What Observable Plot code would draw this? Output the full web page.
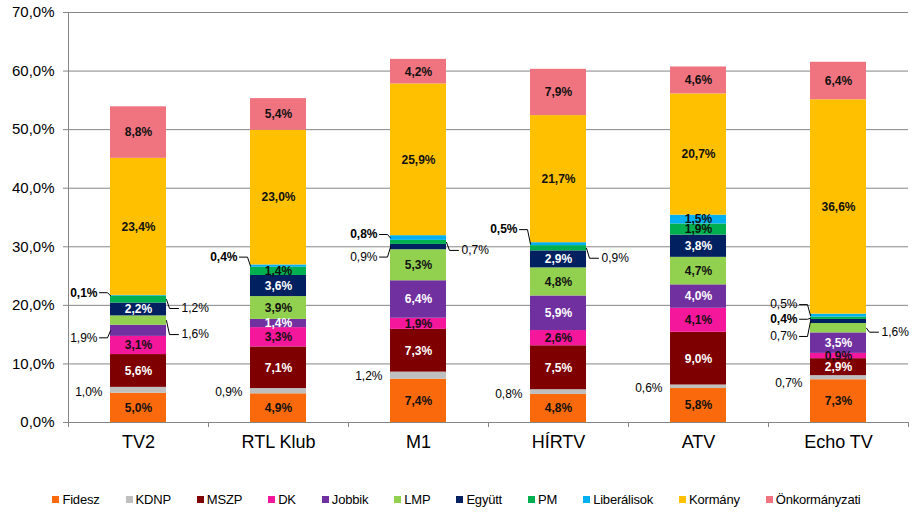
<!DOCTYPE html>
<html>
<head>
<meta charset="utf-8">
<script src="https://cdn.jsdelivr.net/npm/d3@7"></script>
<script src="https://cdn.jsdelivr.net/npm/@observablehq/plot@0.6"></script>
<style>
  html, body { margin: 0; padding: 0; background: #fff; }
  body { width: 913px; height: 520px; overflow: hidden; font-family: "Liberation Sans", Arial, sans-serif; }
  #legend { display: flex; justify-content: center; align-items: center; margin-top: 32px; font-size: 13px; color: #000; letter-spacing: -0.2px; }
  #legend .item { display: flex; align-items: center; margin: 0 13px; }
  #legend .sw { width: 7px; height: 7px; margin-right: 3px; }
</style>
</head>
<body>
<div id="chart"></div>
<div id="legend"></div>
<script>
// ---- data ----
const channels = ["TV2", "RTL Klub", "M1", "HÍRTV", "ATV", "Echo TV"];
const parties = ["Fidesz", "KDNP", "MSZP", "DK", "Jobbik", "LMP", "Együtt", "PM", "Liberálisok", "Kormány", "Önkormányzati"];
const fidesz        = [5.0, 4.9, 7.4, 4.8, 5.8, 7.3];
const kdnp          = [1.0, 0.9, 1.2, 0.8, 0.6, 0.7];
const mszp          = [5.6, 7.1, 7.3, 7.5, 9.0, 2.9];
const dk            = [3.1, 3.3, 1.9, 2.6, 4.1, 0.9];
const jobbik        = [1.9, 1.4, 6.4, 5.9, 4.0, 3.5];
const lmp           = [1.6, 3.9, 5.3, 4.8, 4.7, 1.6];
const egyutt        = [2.2, 3.6, 0.9, 2.9, 3.8, 0.7];
const pm            = [1.2, 1.4, 0.7, 0.9, 1.9, 0.4];
const liberalisok   = [0.1, 0.4, 0.8, 0.5, 1.5, 0.5];
const kormany       = [23.4, 23.0, 25.9, 21.7, 20.7, 36.6];
const onkormanyzati = [8.8, 5.4, 4.2, 7.9, 4.6, 6.4];
const yTicks = [0, 10, 20, 30, 40, 50, 60, 70];

// ---- styles ----
const series = [fidesz, kdnp, mszp, dk, jobbik, lmp, egyutt, pm, liberalisok, kormany, onkormanyzati];
const colors = ["#FA6A0C", "#BFBFBF", "#7F0000", "#F4169B", "#7030A0", "#92D050", "#002060", "#00B050", "#00B0F0", "#FFC000", "#EF7480"];
const textColors = ["#111", "#111", "#fff", "#111", "#fff", "#111", "#fff", "#111", "#111", "#111", "#111"];

// labels placed outside the bar: channel, party, side, vertical pixel shift, bold, leader line
const outside = [
  {c: "TV2", p: "KDNP", side: "L", dy: 2, bold: false, leader: false},
  {c: "TV2", p: "Jobbik", side: "L", dy: 7, bold: false, leader: true},
  {c: "TV2", p: "LMP", side: "R", dy: 14, bold: false, leader: true},
  {c: "TV2", p: "PM", side: "R", dy: 9, bold: false, leader: true},
  {c: "TV2", p: "Liberálisok", side: "L", dy: -3, bold: true, leader: true},
  {c: "RTL Klub", p: "KDNP", side: "L", dy: 1, bold: false, leader: false},
  {c: "RTL Klub", p: "Liberálisok", side: "L", dy: -9, bold: true, leader: true},
  {c: "M1", p: "KDNP", side: "L", dy: 1, bold: false, leader: false},
  {c: "M1", p: "Együtt", side: "L", dy: 10, bold: false, leader: true},
  {c: "M1", p: "PM", side: "R", dy: 8, bold: false, leader: true},
  {c: "M1", p: "Liberálisok", side: "L", dy: -3.5, bold: true, leader: true},
  {c: "HÍRTV", p: "KDNP", side: "L", dy: 2.5, bold: false, leader: false},
  {c: "HÍRTV", p: "PM", side: "R", dy: 10, bold: false, leader: true},
  {c: "HÍRTV", p: "Liberálisok", side: "L", dy: -14.5, bold: true, leader: true},
  {c: "ATV", p: "KDNP", side: "L", dy: 1, bold: false, leader: false},
  {c: "Echo TV", p: "KDNP", side: "L", dy: 5, bold: false, leader: false},
  {c: "Echo TV", p: "LMP", side: "R", dy: 4, bold: false, leader: true},
  {c: "Echo TV", p: "Együtt", side: "L", dy: 15, bold: false, leader: true},
  {c: "Echo TV", p: "PM", side: "L", dy: 1, bold: true, leader: true},
  {c: "Echo TV", p: "Liberálisok", side: "L", dy: -11, bold: false, leader: true}
];

const W = 913, H = 460, ML = 68, MR = 5, MT = 12, MB = 38;
const half = 0.2; // half bar width in band units
const xPerPx = channels.length / (W - ML - MR);
const yPerPx = 70 / (H - MT - MB);

const fmt = v => v.toFixed(1).replace(".", ",") + "%";

// build stacked rows
const rows = [];
channels.forEach((c, i) => {
  let cum = 0;
  parties.forEach((p, k) => {
    const v = series[k][i];
    rows.push({c, i, p, k, v, y1: cum, y2: cum + v, mid: cum + v / 2});
    cum += v;
  });
});
const key = (c, p) => c + "|" + p;
const rowMap = new Map(rows.map(r => [key(r.c, r.p), r]));
const outKeys = new Set(outside.map(o => key(o.c, o.p)));
const inside = rows.filter(r => !outKeys.has(key(r.c, r.p)));

const outLabels = outside.map(o => {
  const r = rowMap.get(key(o.c, o.p));
  const L = o.side === "L";
  const edge = L ? r.i - half : r.i + half;
  return {...o, r, edge, L, ly: r.mid - o.dy * yPerPx, text: fmt(r.v)};
});
const leaders = [];
outLabels.filter(o => o.leader).forEach((o, j) => {
  const s = o.L ? -1 : 1;
  leaders.push({id: j, x: o.edge, y: o.r.mid});
  leaders.push({id: j, x: o.edge + s * 3 * xPerPx, y: o.ly});
  leaders.push({id: j, x: o.edge + s * (o.L ? 11 : 12) * xPerPx, y: o.ly});
});

const labelMarks = [];
for (const bold of [false, true]) {
  const w = bold ? "bold" : "normal";
  const pick = f => outLabels.filter(o => o.bold === bold && f(o));
  const opts = (dx, anchor) => ({x: "edge", y: "ly", text: "text", dx, textAnchor: anchor, fill: "#000", fontSize: 12, fontWeight: w});
  labelMarks.push(Plot.text(pick(o => o.L && o.leader), opts(-13, "end")));
  labelMarks.push(Plot.text(pick(o => o.L && !o.leader), opts(-8, "end")));
  labelMarks.push(Plot.text(pick(o => !o.L), opts(15, "start")));
}

const plot = Plot.plot({
  width: W, height: H,
  marginLeft: ML, marginRight: MR, marginTop: MT, marginBottom: MB,
  style: {fontFamily: "'Liberation Sans', Arial, sans-serif", background: "#fff", color: "#000"},
  x: {domain: [-0.5, channels.length - 0.5], axis: null},
  y: {domain: [0, 70], axis: null},
  marks: [
    Plot.gridY(yTicks, {stroke: "#868686", strokeOpacity: 1}),
    Plot.axisY(yTicks, {tickSize: 5, tickPadding: 9, stroke: "#868686", fill: "#000", fontSize: 15, tickFormat: fmt}),
    Plot.ruleX([-0.5], {stroke: "#868686"}),
    Plot.rect(rows, {x1: d => d.i - half, x2: d => d.i + half, y1: "y1", y2: "y2", fill: d => colors[d.k]}),
    Plot.ruleY([0], {stroke: "#868686"}),
    Plot.axisX(d3.range(-0.5, channels.length, 1), {tickSize: 5, stroke: "#868686", tickFormat: () => ""}),
    Plot.axisX(d3.range(channels.length), {tickSize: 0, tickPadding: 13, fontSize: 18, fill: "#000", tickFormat: i => channels[i]}),
    Plot.text(inside, {x: "i", y: "mid", text: d => fmt(d.v), fill: d => textColors[d.k], fontSize: 12, fontWeight: "bold"}),
    Plot.line(leaders, {x: "x", y: "y", z: "id", stroke: "#000", strokeWidth: 1}),
    ...labelMarks
  ]
});
document.getElementById("chart").appendChild(plot);

// legend
const legend = document.getElementById("legend");
parties.forEach((p, k) => {
  const item = document.createElement("div");
  item.className = "item";
  const sw = document.createElement("span");
  sw.className = "sw";
  sw.style.background = colors[k];
  const t = document.createElement("span");
  t.textContent = p;
  item.appendChild(sw);
  item.appendChild(t);
  legend.appendChild(item);
});
</script>
</body>
</html>
